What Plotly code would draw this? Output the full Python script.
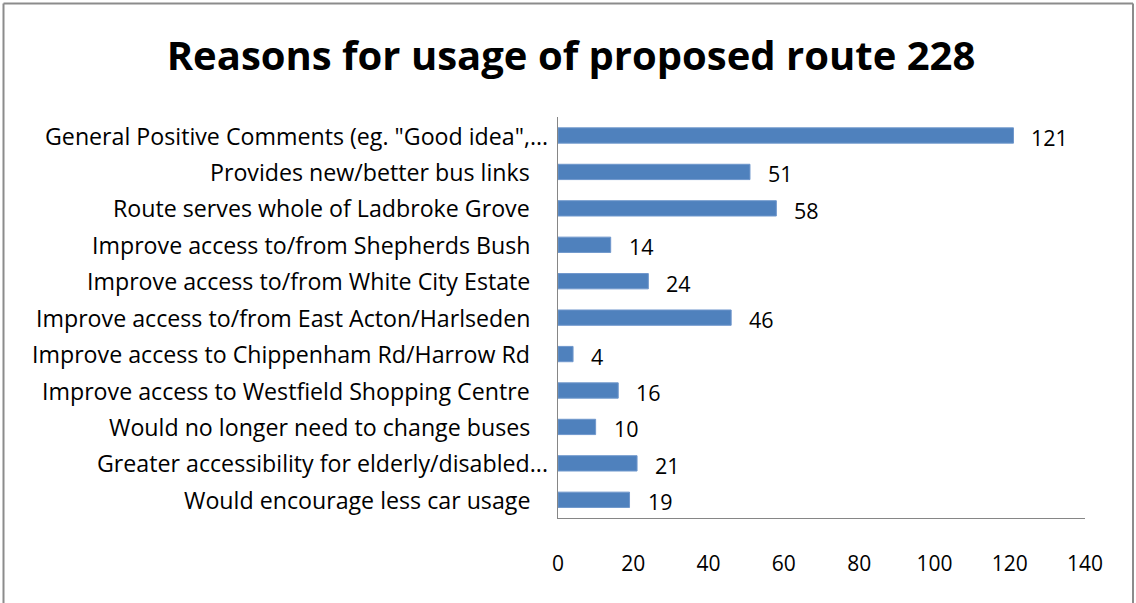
import plotly.graph_objects as go

categories = [
    'General Positive Comments (eg. "Good idea",...',
    "Provides new/better bus links",
    "Route serves whole of Ladbroke Grove",
    "Improve access to/from Shepherds Bush",
    "Improve access to/from White City Estate",
    "Improve access to/from East Acton/Harlseden",
    "Improve access to Chippenham Rd/Harrow Rd",
    "Improve access to Westfield Shopping Centre",
    "Would no longer need to change buses",
    "Greater accessibility for elderly/disabled...",
    "Would encourage less car usage",
]
counts = [121, 51, 58, 14, 24, 46, 4, 16, 10, 21, 19]
x_ticks = [0, 20, 40, 60, 80, 100, 120, 140]

FONT = "Open Sans"
BAR = "#4F81BD"
AXIS = "#868686"
BORDER = "#8C8C8C"

# plot-area geometry in page pixels
W, H = 1136, 603
L, R, T, B = 558, 1085, 117, 518
pw, ph = R - L, B - T


def px(xp):
    return (xp - L) / pw


def py(yp):
    return (B - yp) / ph


fig = go.Figure()
fig.add_trace(go.Bar(
    x=counts,
    y=categories,
    orientation="h",
    marker=dict(color=BAR, line=dict(color="#6F97CC", width=1)),
    width=0.42,
    hoverinfo="x+y",
))

# category labels, right-aligned against the vertical axis;
# truncated ("...") labels run a bit closer to the axis
for c in categories:
    fig.add_annotation(
        xref="paper", x=0, y=c, text=c, showarrow=False,
        xanchor="right", yanchor="middle",
        xshift=-8 if c.endswith("...") else -26,
        font=dict(family=FONT, size=23.2, color="#000000"),
    )

# value labels sitting a little to the right of each bar end
for c, v in zip(categories, counts):
    fig.add_annotation(
        x=v, y=c, text=str(v), showarrow=False,
        xanchor="left", yanchor="middle", xshift=16, yshift=-2,
        font=dict(family=FONT, size=21.5, color="#000000"),
    )

fig.update_layout(
    width=W, height=H,
    margin=dict(l=L, r=W - R, t=T, b=H - B),
    paper_bgcolor="white", plot_bgcolor="white",
    showlegend=False,
    title=dict(
        text="<b>Reasons for usage of proposed route 228</b>",
        x=571 / W, xanchor="center", y=1 - 56 / H, yanchor="middle",
        font=dict(family=FONT, size=40, color="#000000"),
    ),
    xaxis=dict(
        range=[0, 140], tickvals=x_ticks, showgrid=False, zeroline=False,
        showline=True, linecolor=AXIS, linewidth=1,
        ticks="", ticklabelstandoff=27,
        tickfont=dict(family=FONT, size=21, color="#000000"),
    ),
    yaxis=dict(
        autorange="reversed", showgrid=False, zeroline=False,
        showline=True, linecolor=AXIS, linewidth=1,
        ticks="", showticklabels=False,
    ),
    # outer chart frame (its bottom edge lies below the page)
    shapes=[
        dict(type="line", xref="paper", yref="paper",
             x0=px(3.5), x1=px(3.5), y0=py(H + 5), y1=py(3.5),
             line=dict(color=BORDER, width=2)),
        dict(type="line", xref="paper", yref="paper",
             x0=px(3.5), x1=px(1133), y0=py(3.5), y1=py(3.5),
             line=dict(color=BORDER, width=2)),
        dict(type="line", xref="paper", yref="paper",
             x0=px(1133), x1=px(1133), y0=py(H + 5), y1=py(3.5),
             line=dict(color=BORDER, width=2)),
    ],
)

fig.write_html("out.html")
